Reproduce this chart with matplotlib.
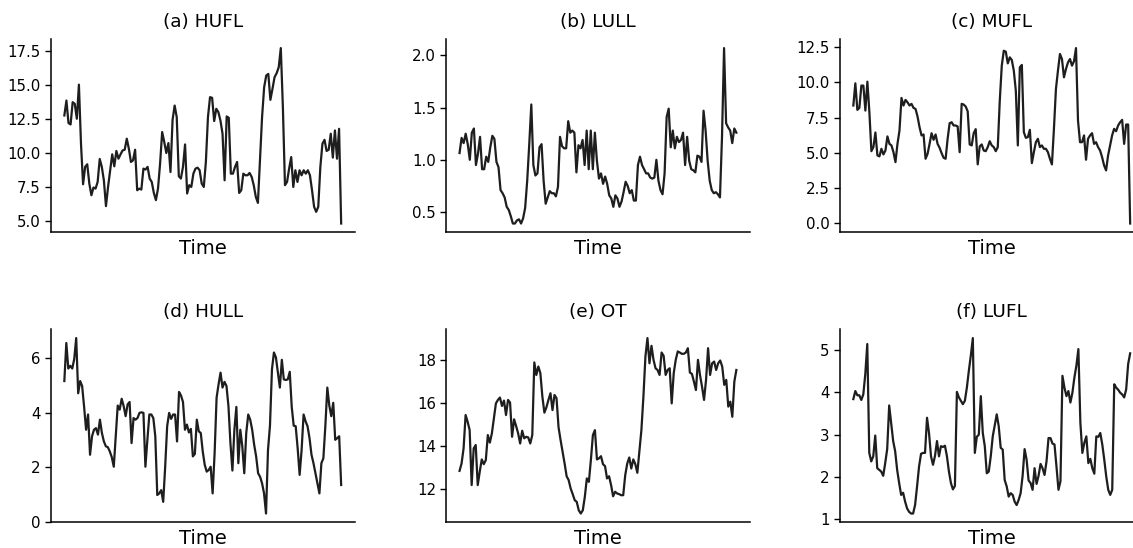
import numpy as np
import matplotlib
matplotlib.use("Agg")
import matplotlib.pyplot as plt

titles = ["(a) HUFL", "(b) LULL", "(c) MUFL", "(d) HULL", "(e) OT", "(f) LUFL"]

hufl = [12.78, 13.88, 12.22, 12.12, 13.76, 13.64, 12.54, 15.05, 10.7, 7.72, 9.0, 9.19, 7.77, 6.91,
        7.48, 7.4, 7.89, 9.58, 9.0, 8.0, 6.11, 7.52, 8.75, 9.92, 9.04, 10.17, 9.6, 9.92, 10.21,
        10.26, 11.07, 10.33, 9.36, 9.48, 10.26, 7.28, 7.4, 7.33, 8.87, 8.8, 9.0, 8.14, 7.89, 7.08,
        6.55, 7.4, 9.24, 11.56, 10.83, 10.02, 10.75, 8.62, 12.46, 13.51, 12.66, 8.31, 8.14, 9.0,
        10.65, 7.04, 7.65, 7.52, 8.5, 8.87, 8.94, 8.75, 7.77, 7.52, 9.36, 12.66, 14.13, 14.08,
        12.37, 13.27, 13.03, 12.41, 11.44, 8.01, 12.71, 12.61, 8.5, 8.5, 8.99, 9.36, 7.08, 7.28,
        8.5, 8.38, 8.38, 8.55, 8.26, 7.65, 6.79, 6.35, 9.48, 12.66, 14.86, 15.72, 15.84, 13.93,
        14.74, 15.6, 15.89, 16.33, 17.74, 13.39, 7.65, 7.89, 8.87, 9.72, 7.52, 8.75, 7.89, 8.75,
        8.38, 8.75, 8.5, 8.75, 8.38, 7.28, 6.06, 5.69, 6.06, 8.99, 10.7, 10.99, 10.17, 10.26,
        11.44, 9.68, 11.68, 9.6, 11.8, 4.83]

lull = [1.065, 1.21, 1.16, 1.25, 1.15, 1.0, 1.26, 1.30, 0.95, 1.06, 1.22, 0.91, 0.91, 1.03, 0.98,
        1.12, 1.23, 1.20, 0.98, 0.93, 0.71, 0.68, 0.64, 0.55, 0.52, 0.46, 0.39, 0.39, 0.42, 0.43,
        0.39, 0.44, 0.54, 0.80, 1.15, 1.53, 0.95, 0.85, 0.87, 1.12, 1.15, 0.80, 0.58, 0.64, 0.70,
        0.68, 0.68, 0.65, 0.74, 1.22, 1.13, 1.11, 1.11, 1.37, 1.26, 1.28, 1.26, 0.88, 1.14, 1.11,
        1.19, 0.95, 1.28, 0.91, 1.28, 0.91, 1.26, 0.99, 0.82, 0.87, 0.77, 0.84, 0.77, 0.66, 0.63,
        0.55, 0.66, 0.63, 0.55, 0.60, 0.69, 0.79, 0.75, 0.68, 0.71, 0.61, 0.61, 0.95, 1.03, 0.95,
        0.91, 0.87, 0.87, 0.83, 0.82, 0.83, 1.0, 0.80, 0.71, 0.67, 0.87, 1.41, 1.49, 1.12, 1.28,
        1.11, 1.22, 1.17, 1.19, 1.26, 0.95, 1.22, 0.99, 0.91, 0.90, 0.88, 1.04, 1.03, 0.98, 1.47,
        1.28, 0.99, 0.80, 0.71, 0.68, 0.69, 0.67, 0.64, 1.22, 2.07, 1.35, 1.31, 1.28, 1.16, 1.30,
        1.26]

mufl = [8.36, 9.94, 8.05, 8.19, 9.78, 9.78, 8.0, 10.06, 7.88, 5.11, 5.4, 6.44, 4.81, 4.74, 5.28,
        4.88, 5.16, 6.16, 5.63, 5.52, 5.04, 4.33, 5.63, 6.58, 8.9, 8.36, 8.76, 8.59, 8.36, 8.48,
        8.19, 8.12, 7.58, 6.82, 6.23, 6.3, 4.57, 4.92, 5.63, 6.39, 5.92, 6.3, 5.63, 5.35, 4.97,
        4.64, 4.57, 5.99, 7.1, 7.17, 6.94, 6.94, 6.87, 5.04, 8.48, 8.43, 8.29, 7.95, 5.59, 5.52,
        6.39, 6.68, 4.17, 5.45, 5.59, 5.16, 5.11, 5.4, 5.82, 5.52, 5.4, 5.11, 5.4, 8.71, 11.2,
        12.26, 12.19, 11.36, 11.79, 11.6, 10.84, 9.42, 5.52, 11.08, 11.25, 6.46, 6.06, 6.11, 6.63,
        4.26, 5.04, 5.75, 5.99, 5.4, 5.52, 5.28, 5.28, 5.04, 4.57, 4.17, 6.7, 9.54, 10.84, 12.03,
        11.67, 10.37, 10.96, 11.43, 11.67, 11.2, 11.51, 12.45, 7.29, 5.75, 5.75, 6.23, 4.5, 5.99,
        6.23, 6.39, 5.63, 5.75, 5.4, 5.16, 4.69, 4.1, 3.74, 4.81, 5.52, 6.23, 6.7, 6.53, 6.94,
        7.17, 7.34, 5.63, 7.01, 7.01, -0.04]

hull = [5.17, 6.57, 5.63, 5.73, 5.63, 5.98, 6.75, 4.72, 5.17, 4.99, 4.22, 3.38, 3.94, 2.46, 3.14,
        3.38, 3.44, 3.2, 3.75, 3.26, 2.95, 2.77, 2.74, 2.58, 2.37, 2.02, 3.14, 4.27, 4.12, 4.52,
        4.25, 3.88, 4.31, 4.4, 2.89, 3.81, 3.75, 3.81, 4.0, 4.02, 4.0, 2.02, 3.01, 3.94, 3.94,
        3.81, 3.14, 0.98, 1.04, 1.16, 0.73, 2.02, 3.51, 4.0, 3.78, 3.94, 3.94, 2.95, 4.77, 4.64,
        4.4, 3.38, 3.57, 3.28, 3.41, 2.4, 2.49, 3.75, 3.32, 3.26, 2.58, 2.09, 1.84, 1.9, 2.02,
        1.04, 2.52, 4.56, 5.05, 5.48, 4.93, 5.14, 4.99, 4.25, 2.89, 1.88, 3.38, 4.22, 2.15, 3.38,
        2.77, 1.78, 3.26, 3.94, 3.75, 3.38, 2.83, 2.4, 1.78, 1.65, 1.41, 1.04, 0.3, 2.64, 3.53,
        5.6, 6.22, 6.04, 5.48, 4.93, 5.95, 5.23, 5.21, 5.23, 5.51, 4.22, 3.53, 3.51, 2.7, 1.72,
        2.64, 3.94, 3.69, 3.51, 3.07, 2.46, 2.15, 1.78, 1.41, 1.04, 2.15, 2.33, 3.51, 4.93, 4.27,
        3.88, 4.37, 3.01, 3.07, 3.14, 1.35]

ot = [12.85, 13.19, 13.89, 15.44, 15.13, 14.74, 12.19, 13.89, 14.05, 12.19, 12.81, 13.38, 13.16,
      13.35, 14.51, 14.16, 14.59, 15.29, 15.98, 16.14, 16.25, 15.86, 16.11, 15.44, 16.14, 16.02,
      14.43, 15.24, 14.93, 14.59, 14.12, 14.71, 14.36, 14.43, 14.4, 14.12, 14.51, 17.88, 17.3,
      17.69, 17.38, 16.29, 15.55, 15.8, 16.14, 16.45, 15.67, 16.37, 16.22, 14.87, 14.28, 13.74,
      13.19, 12.6, 12.42, 12.03, 11.77, 11.49, 11.41, 11.02, 10.87, 11.02, 11.64, 12.5, 12.34,
      13.35, 14.51, 14.74, 13.38, 13.43, 13.53, 13.16, 13.07, 12.5, 12.6, 12.19, 11.67, 11.88,
      11.8, 11.77, 11.72, 11.72, 12.65, 13.19, 13.47, 12.96, 13.38, 13.16, 12.76, 13.74, 14.74,
      16.29, 18.16, 19.01, 17.84, 18.65, 18.0, 17.61, 17.53, 17.3, 18.34, 18.19, 17.3, 17.53,
      17.61, 15.98, 17.38, 18.0, 18.39, 18.34, 18.28, 18.28, 18.34, 18.54, 17.41, 17.35, 16.99,
      16.6, 18.0, 17.3, 16.76, 16.14, 17.07, 18.54, 17.3, 17.84, 17.92, 17.53, 17.84, 17.97,
      17.69, 16.84, 17.07, 15.83, 16.06, 15.36, 16.99, 17.53]

lufl = [3.84, 4.03, 3.93, 3.93, 3.82, 3.95, 4.43, 5.14, 2.57, 2.37, 2.49, 2.98, 2.21, 2.17, 2.13,
        2.03, 2.33, 2.66, 3.69, 3.28, 2.85, 2.61, 2.17, 1.86, 1.58, 1.63, 1.42, 1.26, 1.18, 1.14,
        1.14, 1.34, 1.78, 2.25, 2.55, 2.57, 2.57, 3.4, 3.04, 2.49, 2.29, 2.5, 2.85, 2.49, 2.73,
        2.71, 2.74, 2.49, 2.13, 1.86, 1.71, 1.79, 4.01, 3.88, 3.8, 3.72, 3.8, 4.11, 4.51, 4.87,
        5.28, 2.57, 2.95, 3.0, 3.91, 3.04, 2.73, 2.09, 2.13, 2.49, 2.96, 3.22, 3.48, 3.2, 2.69,
        2.65, 1.93, 1.78, 1.54, 1.62, 1.58, 1.42, 1.34, 1.46, 1.62, 2.03, 2.66, 2.41, 1.92, 1.86,
        1.7, 2.21, 1.84, 2.03, 2.31, 2.21, 2.05, 2.37, 2.92, 2.92, 2.79, 2.77, 2.25, 1.7, 1.9,
        4.39, 4.11, 3.91, 4.03, 3.76, 3.99, 4.35, 4.63, 5.02, 3.28, 2.57, 2.81, 2.96, 2.33, 2.43,
        2.21, 2.08, 2.96, 2.95, 3.04, 2.77, 2.41, 2.01, 1.7, 1.58, 1.7, 4.19, 4.11, 4.06, 3.99,
        3.95, 3.88, 4.07, 4.67, 4.92]

series = [hufl, lull, mufl, hull, ot, lufl]
yticks = [[5.0, 7.5, 10.0, 12.5, 15.0, 17.5],
          [0.5, 1.0, 1.5, 2.0],
          [0.0, 2.5, 5.0, 7.5, 10.0, 12.5],
          [0, 2, 4, 6],
          [12, 14, 16, 18],
          [1, 2, 3, 4, 5]]
yfmt = ["{:.1f}", "{:.1f}", "{:.1f}", "{:d}", "{:d}", "{:d}"]

W, H = 1133, 548
fig = plt.figure(figsize=(W / 100, H / 100), dpi=100)

lefts = [50.5, 445.7, 839.5]
width = 304.5
tops = [39.3, 329.3]
height = 193.0

for i, (vals, title) in enumerate(zip(series, titles)):
    r, c = divmod(i, 3)
    ax = fig.add_axes([lefts[c] / W, (H - tops[r] - height) / H, width / W, height / H])
    x = np.arange(len(vals))
    ax.plot(x, vals, color="#1e1e1e", lw=1.6)
    ax.set_xticks([])
    ax.set_yticks(yticks[i])
    ax.set_yticklabels([yfmt[i].format(v) for v in yticks[i]], fontsize=10.8)
    ax.tick_params(axis="y", length=4.5, width=1.0, pad=2.5)
    for s in ("top", "right"):
        ax.spines[s].set_visible(False)
    for s in ("left", "bottom"):
        ax.spines[s].set_linewidth(1.1)
    ax.set_title(title, fontsize=13.3, pad=9)
    ax.set_xlabel("Time", fontsize=14, labelpad=5)

fig.savefig("out.png", dpi=100)
